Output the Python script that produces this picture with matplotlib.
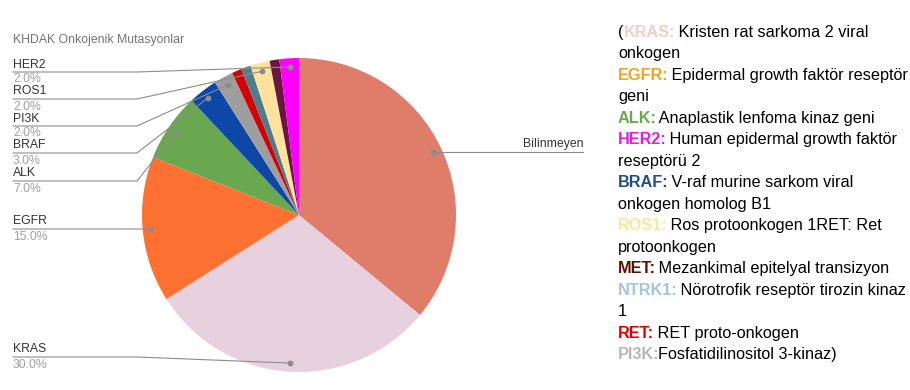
# pie of oncogenic mutations in NSCLC with a coloured text key on the right
import matplotlib.pyplot as plt
import numpy as np

plt.rcParams['font.family'] = ['Liberation Sans', 'DejaVu Sans']

# slices, clockwise from 12 o'clock
mutations = ['Bilinmeyen', 'KRAS', 'EGFR', 'ALK', 'BRAF', 'PI3K', 'RET', 'NTRK1', 'ROS1', 'MET', 'HER2']
shares = [36, 30, 15, 7, 3, 2, 1, 1, 2, 1, 2]
slice_colors = ['#e07c6a', '#e8d1de', '#fe7132', '#6aa84f', '#0d47a8', '#9e9e9e',
                '#d50000', '#4e7d8e', '#fee29d', '#6b1642', '#ff00ff']

# slices with an outside label (left side / right side)
left_labels = ['HER2', 'ROS1', 'PI3K', 'BRAF', 'ALK', 'EGFR', 'KRAS']
right_labels = ['Bilinmeyen']

title = 'KHDAK Onkojenik Mutasyonlar'

# key text: each line is a list of (text, colour, bold)
key_lines = [
    [('(', '#000000', False), ('KRAS:', '#f4cccc', True), (' Kristen rat sarkoma 2 viral', '#000000', False)],
    [('onkogen', '#000000', False)],
    [('EGFR:', '#f1a31f', True), (' Epidermal growth faktör reseptör', '#000000', False)],
    [('geni', '#000000', False)],
    [('ALK:', '#6aa84f', True), (' Anaplastik lenfoma kinaz geni', '#000000', False)],
    [('HER2:', '#e01fe0', True), (' Human epidermal growth faktör', '#000000', False)],
    [('reseptörü 2', '#000000', False)],
    [('BRAF:', '#1f4e8c', True), (' V-raf murine sarkom viral', '#000000', False)],
    [('onkogen homolog B1', '#000000', False)],
    [('ROS1:', '#ffe599', True), (' Ros protoonkogen 1RET: Ret', '#000000', False)],
    [('protoonkogen', '#000000', False)],
    [('MET:', '#5b0f00', True), (' Mezankimal epitelyal transizyon', '#000000', False)],
    [('NTRK1:', '#9fc5e8', True), (' Nörotrofik reseptör tirozin kinaz', '#000000', False)],
    [('1', '#000000', False)],
    [('RET:', '#e00000', True), (' RET proto-onkogen', '#000000', False)],
    [('PI3K:', '#b7b7b7', True), ('Fosfatidilinositol 3-kinaz)', '#000000', False)],
]

W, H = 910, 390
fig = plt.figure(figsize=(W / 100, H / 100), dpi=100)

# pie axes: centre (299, 215) px, radius 157 px
cx, cy, r = 299, 215, 157
pie_ax = fig.add_axes([(cx - r) / W, (H - cy - r) / H, 2 * r / W, 2 * r / H])
wedges, _ = pie_ax.pie(shares, colors=slice_colors, startangle=90, counterclock=False,
                       wedgeprops=dict(linewidth=0))
pie_ax.set_xlim(-1, 1)
pie_ax.set_ylim(-1, 1)
pie_ax.set_aspect('equal')

# overlay in pixel units (y down) for labels and leader lines
lay = fig.add_axes([0, 0, 1, 1], zorder=5)
lay.set_xlim(0, W)
lay.set_ylim(H, 0)
lay.axis('off')
lay.patch.set_alpha(0)

fig.canvas.draw()
to_lay = pie_ax.transData + lay.transData.inverted()


def anchor(name):
    w = wedges[mutations.index(name)]
    a = np.deg2rad((w.theta1 + w.theta2) / 2)
    return to_lay.transform((0.945 * np.cos(a), 0.945 * np.sin(a)))


total = sum(shares)
line_col = '#8c8c8c'
lab_size = 8.8

lay.text(13, 40, title, fontsize=lab_size, color='#757575', va='center')

left_rows = [72, 99, 126, 153, 181, 229, 357]
for name, y in zip(left_labels, left_rows):
    px, py = anchor(name)
    pct = shares[mutations.index(name)] / total * 100
    lay.plot([13, 137, px], [y, y, py], color=line_col, lw=0.8)
    lay.plot(px, py, 'o', color=line_col, ms=3.2)
    lay.text(13, y - 1.5, name, fontsize=lab_size, color='#333333', va='bottom')
    lay.text(13, y + 1.5, f'{pct:.1f}%', fontsize=lab_size, color='#a0a0a0', va='top')

for name in right_labels:
    px, py = anchor(name)
    lay.plot([px, 583], [py, py], color=line_col, lw=0.8)
    lay.plot(px, py, 'o', color=line_col, ms=3.2)
    lay.text(583, py - 1.5, name, fontsize=lab_size, color='#333333', va='bottom', ha='right')

# coloured key, drawn piece by piece along each baseline
renderer = fig.canvas.get_renderer()
x0, base0, step = 618, 37, 21.47
for i, parts in enumerate(key_lines):
    x = x0
    yb = base0 + i * step
    for txt, col, bold in parts:
        t = lay.text(x, yb, txt, fontsize=11.7, color=col, va='baseline',
                     fontweight='bold' if bold else 'normal')
        x += t.get_window_extent(renderer).width - (1.5 if bold else 0)

fig.savefig('out.png', dpi=100)
